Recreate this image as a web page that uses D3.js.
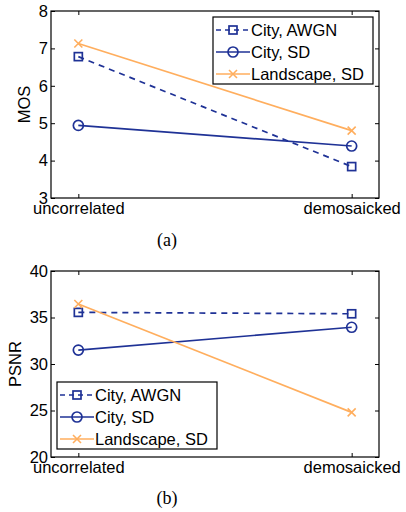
<!DOCTYPE html>
<html lang="en">
<head>
<meta charset="utf-8">
<title>MOS and PSNR</title>
<script src="https://cdn.jsdelivr.net/npm/d3@7"></script>
<style>
  body { margin: 0; background: #fff; }
  text { font-family: "Liberation Sans", Arial, sans-serif; }
  text.caption { font-family: "Liberation Serif", "Times New Roman", serif; }
</style>
</head>
<body>
<script>
// categories on the x axis
var categories = ["uncorrelated", "demosaicked"];
var seriesNames = ["City, AWGN", "City, SD", "Landscape, SD"];

// (a) MOS values
var mosAwgnCity = [6.78, 3.84];
var mosSdCity = [4.94, 4.39];
var mosSdLandscape = [7.13, 4.80];
var mosTicks = [3, 4, 5, 6, 7, 8];

// (b) PSNR values
var psnrAwgnCity = [35.55, 35.4];
var psnrSdCity = [31.5, 33.95];
var psnrSdLandscape = [36.45, 24.8];
var psnrTicks = [20, 25, 30, 35, 40];

var W = 406, H = 512;
var blue = "#1f3296", orange = "#ffae5e";
var styles = [
    { color: blue, dash: "6,5", marker: "square" },
    { color: blue, dash: null, marker: "circle" },
    { color: orange, dash: null, marker: "cross" }
];

var svg = d3.select("body").append("svg")
    .attr("width", W)
    .attr("height", H);

function drawMarker(g, type, x, y, color) {
    if (type == "square") {
        g.append("rect")
         .attr("x", x - 4).attr("y", y - 4)
         .attr("width", 8).attr("height", 8)
         .attr("fill", "none").attr("stroke", color).attr("stroke-width", 1.7);
    } else if (type == "circle") {
        g.append("circle")
         .attr("cx", x).attr("cy", y).attr("r", 5)
         .attr("fill", "none").attr("stroke", color).attr("stroke-width", 1.7);
    } else {
        g.append("path")
         .attr("d", "M" + (x - 4) + "," + (y - 4) + "L" + (x + 4) + "," + (y + 4) +
                    "M" + (x - 4) + "," + (y + 4) + "L" + (x + 4) + "," + (y - 4))
         .attr("stroke", color).attr("stroke-width", 1.6);
    }
}

function drawPanel(p) {
    var left = 51, right = 379;
    var x = d3.scaleLinear().domain([0.9, 2.1]).range([left, right]);
    var y = d3.scaleLinear().domain(p.domain).range([p.bottom, p.top]);
    var g = svg.append("g");

    // box
    g.append("rect")
     .attr("x", left).attr("y", p.top)
     .attr("width", right - left).attr("height", p.bottom - p.top)
     .attr("fill", "none").attr("stroke", "#000").attr("stroke-width", 1.2);

    // inward ticks on all four sides
    var xt = [1, 2];
    g.append("g").attr("transform", "translate(0," + p.bottom + ")")
     .call(d3.axisBottom(x).tickValues(xt).tickSize(-4).tickFormat(function(d) { return categories[d - 1]; }))
     .call(function(a) {
         a.select(".domain").remove();
         a.selectAll("text").attr("dy", null).attr("y", 16).attr("font-size", "16.5px")
          .attr("fill", "#000").attr("font-family", null);
     });
    g.append("g").attr("transform", "translate(0," + p.top + ")")
     .call(d3.axisTop(x).tickValues(xt).tickSize(-4).tickFormat(""))
     .call(function(a) { a.select(".domain").remove(); });
    g.append("g").attr("transform", "translate(" + left + ",0)")
     .call(d3.axisLeft(y).tickValues(p.ticks).tickSize(-4).tickFormat(d3.format("d")))
     .call(function(a) {
         a.select(".domain").remove();
         a.selectAll("text").attr("x", -3).attr("font-size", "16.5px")
          .attr("fill", "#000").attr("font-family", null);
     });
    g.append("g").attr("transform", "translate(" + right + ",0)")
     .call(d3.axisRight(y).tickValues(p.ticks).tickSize(-4).tickFormat(""))
     .call(function(a) { a.select(".domain").remove(); });

    // y label
    g.append("text")
     .attr("transform", "translate(" + p.labelX + "," + ((p.top + p.bottom) / 2) + ") rotate(-90)")
     .attr("text-anchor", "middle")
     .attr("font-size", "16.5px")
     .text(p.label);

    // series
    var line = d3.line()
        .x(function(d, i) { return x(i + 1); })
        .y(function(d) { return y(d); });
    p.series.forEach(function(s, k) {
        var st = styles[k];
        g.append("path")
         .attr("d", line(s))
         .attr("fill", "none")
         .attr("stroke", st.color)
         .attr("stroke-width", 1.7)
         .attr("stroke-dasharray", st.dash);
        s.forEach(function(v, i) {
            drawMarker(g, st.marker, x(i + 1), y(v), st.color);
        });
    });

    // legend
    var lg = g.append("g").attr("transform", "translate(" + p.legend[0] + "," + p.legend[1] + ")");
    lg.append("rect")
     .attr("width", 160).attr("height", 67)
     .attr("fill", "#fff").attr("stroke", "#000").attr("stroke-width", 1.2);
    seriesNames.forEach(function(name, k) {
        var st = styles[k];
        var ry = 13 + k * 22;
        lg.append("line")
         .attr("x1", 3).attr("x2", 37).attr("y1", ry).attr("y2", ry)
         .attr("stroke", st.color).attr("stroke-width", 1.7)
         .attr("stroke-dasharray", st.dash ? "5,4" : null);
        drawMarker(lg, st.marker, 20, ry, st.color);
        lg.append("text")
         .attr("x", 38).attr("y", ry + 6)
         .attr("font-size", "16.5px")
         .text(name);
    });

    // caption
    svg.append("text")
     .attr("class", "caption")
     .attr("x", p.capX).attr("y", p.capY)
     .attr("text-anchor", "middle")
     .attr("font-size", "18px")
     .text(p.caption);
}

drawPanel({
    top: 11, bottom: 198, domain: [3, 8], ticks: mosTicks,
    label: "MOS", labelX: 30,
    series: [mosAwgnCity, mosSdCity, mosSdLandscape],
    legend: [213, 17],
    caption: "(a)", capX: 167, capY: 246
});

drawPanel({
    top: 271, bottom: 457, domain: [20, 40], ticks: psnrTicks,
    label: "PSNR", labelX: 21,
    series: [psnrAwgnCity, psnrSdCity, psnrSdLandscape],
    legend: [57, 382],
    caption: "(b)", capX: 167, capY: 504
});
</script>
</body>
</html>
